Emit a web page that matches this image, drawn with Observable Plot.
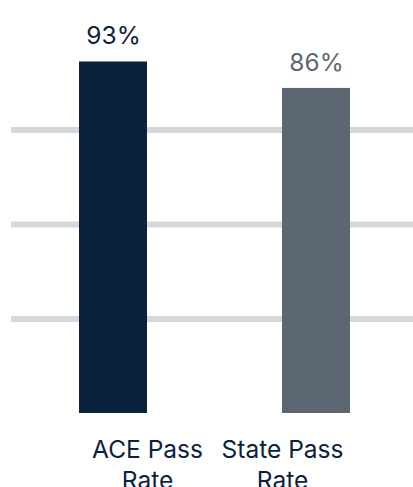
<!DOCTYPE html>
<html>
<head>
<meta charset="utf-8">
<script src="https://cdn.jsdelivr.net/npm/d3@7"></script>
<script src="https://cdn.jsdelivr.net/npm/@observablehq/plot@0.6"></script>
<style>
  html, body { margin: 0; padding: 0; background: #fff; }
  #chart { width: 413px; height: 487px; overflow: hidden; }
  svg { font-family: Inter, "Noto Sans", sans-serif; }
</style>
</head>
<body>
<div id="chart"></div>
<script>
const categories = ["ACE Pass Rate", "State Pass Rate"];
const labels = ["ACE Pass\nRate", "State Pass\nRate"];
const values = [93, 86];
const colors = ["#0b223d", "#5d6774"];
const gridTicks = [25, 50, 75];

const data = categories.map((c, i) => ({category: c, label: labels[i], value: values[i], color: colors[i]}));

const chart = Plot.plot({
  width: 413,
  height: 487,
  marginTop: 35,
  marginBottom: 74,
  marginLeft: 11,
  marginRight: 0,
  style: {fontFamily: "Inter, 'Noto Sans', sans-serif", background: "#fff"},
  x: {domain: categories, paddingInner: 0.665, paddingOuter: 0.3225, align: 0.52, axis: null},
  y: {domain: [0, 100], axis: null},
  color: {domain: categories, range: colors},
  marks: [
    Plot.ruleY(gridTicks, {stroke: "#d5d8db", strokeWidth: 6}),
    Plot.barY(data, {x: "category", y: "value", fill: "category"}),
    Plot.text(data, {x: "category", y: "value", text: d => d.value + "%", fill: "category",
      lineAnchor: "bottom", dy: -17.5, fontSize: 24.5}),
    Plot.text(data.filter((d, i) => i === 0), {x: "category", y: () => 0, text: "label", fill: colors[0],
      lineAnchor: "top", dy: 22, dx: 34, fontSize: 24.5, lineHeight: 1.28}),
    Plot.text(data.filter((d, i) => i === 1), {x: "category", y: () => 0, text: "label", fill: colors[0],
      lineAnchor: "top", dy: 22, dx: -34, fontSize: 24.5, lineHeight: 1.28})
  ]
});
document.getElementById("chart").append(chart);
</script>
</body>
</html>
